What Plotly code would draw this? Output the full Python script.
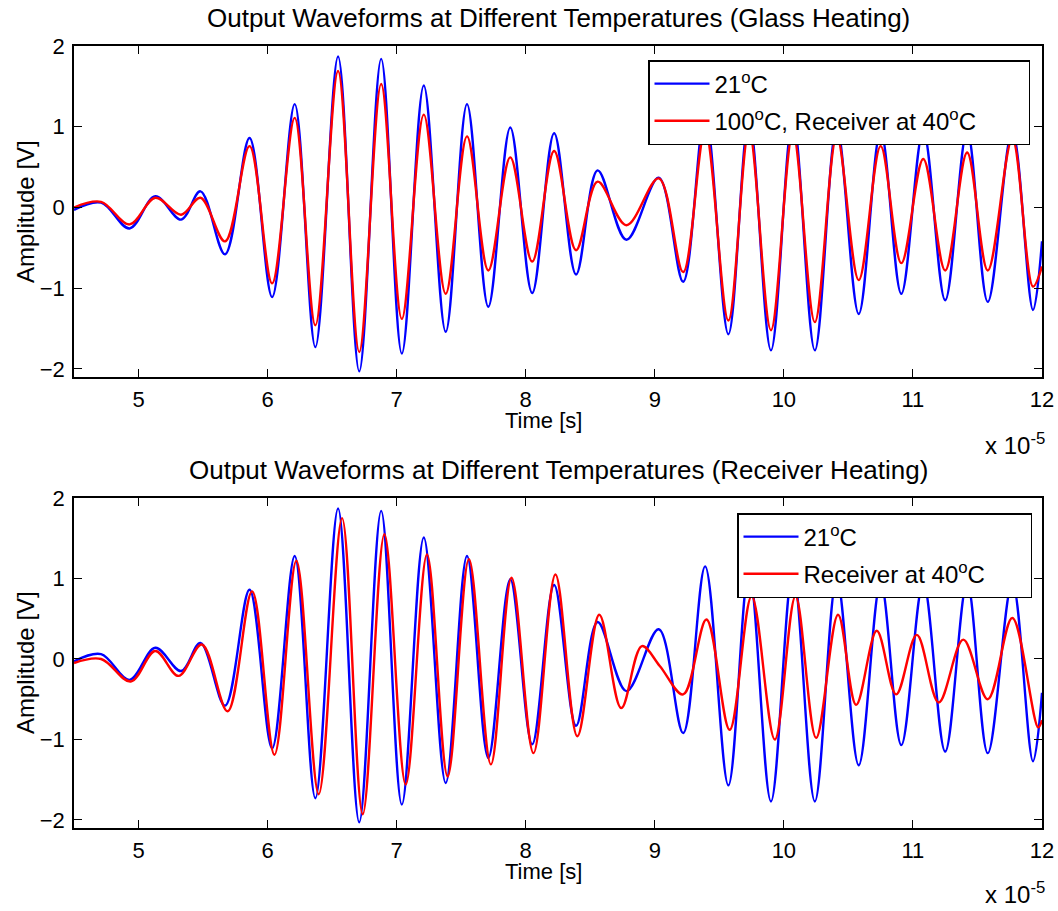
import plotly.graph_objects as go

# ---- data (time in units of 1e-5 s, amplitude in V) ----
t_ref = [4.50, 4.71, 4.93, 5.13, 5.33, 5.48, 5.67, 5.86, 6.035, 6.21, 6.37, 6.546, 6.71,
         6.88, 7.04, 7.21, 7.38, 7.545, 7.71, 7.88, 8.05, 8.22, 8.39, 8.557, 8.78, 9.03,
         9.22, 9.39, 9.57, 9.73, 9.90, 10.07, 10.24, 10.41, 10.58, 10.75, 10.91, 11.08,
         11.25, 11.42, 11.58, 11.77, 11.93, 12.0]
v_ref = [-0.03, 0.06, -0.26, 0.14, -0.15, 0.20, -0.58, 0.86, -1.11, 1.28, -1.73, 1.87, -2.03,
         1.84, -1.81, 1.51, -1.54, 1.28, -1.23, 0.99, -1.06, 0.92, -0.83, 0.46, -0.40, 0.37,
         -0.92, 1.15, -1.57, 1.10, -1.77, 1.10, -1.77, 1.00, -1.32, 0.95, -1.07, 0.95,
         -1.15, 0.95, -1.17, 0.95, -1.27, -0.42]

t_glass = [4.50, 4.71, 4.93, 5.13, 5.33, 5.48, 5.67, 5.86, 6.035, 6.21, 6.37, 6.546, 6.71,
           6.88, 7.04, 7.21, 7.38, 7.545, 7.71, 7.88, 8.05, 8.22, 8.39, 8.557, 8.78, 9.03,
           9.22, 9.39, 9.57, 9.73, 9.90, 10.07, 10.24, 10.41, 10.58, 10.75, 10.91, 11.08,
           11.25, 11.42, 11.58, 11.77, 11.93, 12.0]
v_glass = [0.00, 0.07, -0.21, 0.12, -0.09, 0.12, -0.42, 0.76, -0.94, 1.11, -1.46, 1.69, -1.79,
           1.53, -1.38, 1.15, -1.07, 0.88, -0.78, 0.62, -0.67, 0.70, -0.53, 0.32, -0.22, 0.36,
           -0.80, 0.95, -1.40, 0.95, -1.52, 0.92, -1.42, 0.88, -0.90, 0.76, -0.69, 0.60,
           -0.78, 0.68, -0.78, 0.85, -0.98, -0.73]

t_recv = [4.50, 4.71, 4.94, 5.13, 5.31, 5.49, 5.69, 5.88, 6.053, 6.223, 6.396, 6.577, 6.737,
          6.905, 7.07, 7.235, 7.395, 7.56, 7.73, 7.89, 8.06, 8.23, 8.40, 8.57, 8.74, 8.90,
          9.04, 9.22, 9.40, 9.58, 9.75, 9.93, 10.09, 10.25, 10.42, 10.56, 10.72, 10.87,
          11.03, 11.20, 11.39, 11.58, 11.77, 11.97, 12.0]
v_recv = [-0.05, 0.00, -0.28, 0.10, -0.21, 0.18, -0.65, 0.84, -1.19, 1.22, -1.68, 1.75, -1.93,
          1.55, -1.56, 1.30, -1.46, 1.24, -1.31, 1.01, -1.17, 1.05, -0.96, 0.55, -0.61, 0.16,
          -0.09, -0.44, 0.49, -0.88, 0.78, -1.00, 0.78, -0.98, 0.55, -0.57, 0.35, -0.44,
          0.30, -0.54, 0.24, -0.50, 0.51, -0.85, -0.76]

x_ticks = [5, 6, 7, 8, 9, 10, 11, 12]
y_ticks = [-2, -1, 0, 1, 2]

name_ref = "21<sup>o</sup>C"
name_glass = "100<sup>o</sup>C, Receiver at 40<sup>o</sup>C"
name_recv = "Receiver at 40<sup>o</sup>C"
title_top = "Output Waveforms at Different Temperatures (Glass Heating)"
title_bot = "Output Waveforms at Different Temperatures (Receiver Heating)"

BLUE = "#0000ff"
RED = "#ff0000"
FONT = "Liberation Sans"
W, H = 1058, 911

def px(x):
    return x / W

def py(y):
    return 1 - y / H

PAD = "&nbsp;" * 7

fig = go.Figure()
line_kw = dict(shape="spline", smoothing=1.0, width=2.4)
fig.add_trace(go.Scatter(x=t_ref, y=v_ref, mode="lines", name=name_ref, legendgroup="a",
                         line=dict(color=BLUE, **line_kw), xaxis="x", yaxis="y", legend="legend"))
fig.add_trace(go.Scatter(x=t_glass, y=v_glass, mode="lines", name=name_glass + PAD,
                         legendgroup="b",
                         line=dict(color=RED, **line_kw), xaxis="x", yaxis="y", legend="legend"))
fig.add_trace(go.Scatter(x=t_ref, y=v_ref, mode="lines", name=name_ref, legendgroup="c",
                         line=dict(color=BLUE, **line_kw), xaxis="x2", yaxis="y2", legend="legend2"))
fig.add_trace(go.Scatter(x=t_recv, y=v_recv, mode="lines", name=name_recv + "&nbsp;" * 6,
                         legendgroup="d",
                         line=dict(color=RED, **line_kw), xaxis="x2", yaxis="y2", legend="legend2"))

xdom = [px(74), px(1042)]
ax_common = dict(showline=True, linecolor="black", linewidth=1.5, mirror="ticks",
                 ticks="inside", ticklen=8, tickcolor="black", tickwidth=1,
                 showgrid=False, zeroline=False, automargin=False,
                 tickfont=dict(family=FONT, size=22, color="black"))
leg_common = dict(xanchor="left", yanchor="top", bgcolor="white", bordercolor="black",
                  borderwidth=1.5, font=dict(family=FONT, size=24, color="black"),
                  itemwidth=55, tracegroupgap=3)
fig.update_layout(
    width=W, height=H,
    margin=dict(l=0, r=0, t=0, b=0, autoexpand=False),
    paper_bgcolor="white", plot_bgcolor="white",
    font=dict(family=FONT, size=22, color="black"),
    xaxis=dict(domain=xdom, range=[4.5, 12], tickvals=x_ticks, anchor="y",
               ticklabelstandoff=2, **ax_common),
    yaxis=dict(domain=[py(377), py(46)], range=[-2.1, 2], tickvals=y_ticks, anchor="x",
               ticklabelstandoff=3, **ax_common),
    xaxis2=dict(domain=xdom, range=[4.5, 12], tickvals=x_ticks, anchor="y2",
                ticklabelstandoff=2, **ax_common),
    yaxis2=dict(domain=[py(828), py(498)], range=[-2.1, 2], tickvals=y_ticks, anchor="x2",
                ticklabelstandoff=3, **ax_common),
    legend=dict(x=px(648), y=py(60), **leg_common),
    legend2=dict(x=px(737), y=py(513), **leg_common),
    showlegend=True,
)

ann = []
def add_text(text, x, y, size, xanchor="center", angle=0):
    ann.append(dict(text=text, x=px(x), y=py(y), xref="paper", yref="paper",
                    xanchor=xanchor, yanchor="middle", showarrow=False, textangle=angle,
                    font=dict(family=FONT, size=size, color="black")))

add_text(title_top, 558, 18, 26)
add_text(title_bot, 558, 470, 26)
add_text("Time [s]", 543, 420, 22)
add_text("Time [s]", 543, 871, 22)
add_text("x 10<sup>-5</sup>", 1047, 444, 24, xanchor="right")
add_text("x 10<sup>-5</sup>", 1047, 893, 24, xanchor="right")
add_text("Amplitude [V]", 25, 212, 24, angle=-90)
add_text("Amplitude [V]", 25, 663, 24, angle=-90)
fig.update_layout(annotations=ann)

fig.write_html("out.html")
